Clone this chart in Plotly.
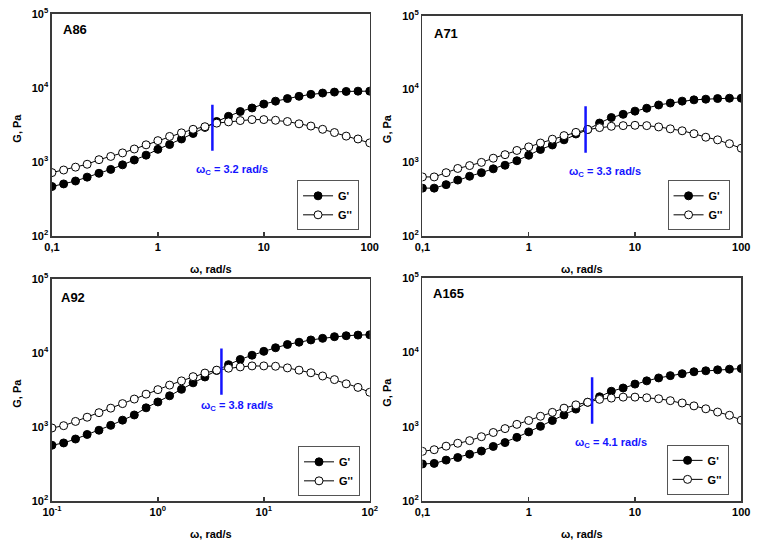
import plotly.graph_objects as go

# ---------------- data ----------------
freq = [0.1, 0.129, 0.167, 0.215, 0.278, 0.359, 0.464, 0.599, 0.774, 1.0,
        1.29, 1.67, 2.15, 2.78, 3.59, 4.64, 5.99, 7.74, 10.0,
        12.9, 16.7, 21.5, 27.8, 35.9, 46.4, 59.9, 77.4, 100.0]

sample_names = ["A86", "A71", "A92", "A165"]

gp_A86 = [466, 505, 553, 624, 703, 794, 914, 1063, 1235, 1480, 1720, 2043, 2423, 2930,
          3515, 4130, 4800, 5355, 6050, 6620, 7180, 7700, 8180, 8520, 8780, 8960, 9040, 9040]
gpp_A86 = [718, 778, 851, 931, 1073, 1187, 1325, 1496, 1704, 1941, 2212, 2472, 2760, 2992,
           3343, 3477, 3622, 3734, 3734, 3655, 3515, 3274, 3053, 2760, 2495, 2234, 2043, 1810]

gp_A71 = [449, 449, 501, 578, 652, 729, 823, 920, 1060, 1259, 1511, 1738, 2043, 2453,
          2825, 3460, 4110, 4545, 5025, 5505, 6095, 6475, 6880, 7160, 7310, 7460, 7540, 7540]
gpp_A71 = [638, 638, 729, 832, 911, 1007, 1148, 1283, 1464, 1637, 1848, 2085, 2333, 2582,
           2825, 3000, 3125, 3190, 3222, 3190, 3062, 2884, 2712, 2477, 2218, 2043, 1810, 1571]

gp_A92 = [567, 609, 688, 793, 904, 1052, 1237, 1453, 1815, 2178, 2638, 3227, 3948, 4735,
          5794, 6950, 8165, 9310, 10510, 11750, 13000, 13960, 14970, 15750, 16570, 17070, 17420, 17610]
gpp_A92 = [970, 1042, 1189, 1356, 1561, 1797, 2069, 2384, 2775, 3193, 3680, 4196, 4785, 5347,
           5855, 6220, 6475, 6680, 6680, 6610, 6280, 5855, 5400, 4883, 4365, 3828, 3425, 2945]

gp_A165 = [315, 321, 355, 385, 426, 470, 542, 611, 718, 851, 1010, 1210, 1436, 1722,
           2128, 2525, 2995, 3310, 3735, 4130, 4520, 4855, 5155, 5475, 5640, 5810, 5930, 6050]
gpp_A165 = [466, 490, 547, 598, 649, 733, 835, 942, 1074, 1210, 1380, 1557, 1774, 1963,
            2128, 2329, 2423, 2497, 2497, 2447, 2375, 2236, 2083, 1903, 1738, 1573, 1423, 1222]

# crossover marker (vertical blue line) and labels
cross_x = [3.27, 3.43, 3.98, 3.95]
cross_lo = [1420, 1365, 2720, 1095]
cross_hi = [5930, 5850, 11500, 4610]
cross_label = ["3.2", "3.3", "3.8", "4.1"]

# tick labels
xtick_vals = [0.1, 1, 10, 100]
xtick_text_comma = ["0,1", "1", "10", "100"]
xtick_text_pow = ["10<sup>-1</sup>", "10<sup>0</sup>", "10<sup>1</sup>", "10<sup>2</sup>"]
ytick_vals = [100, 1000, 10000, 100000]
ytick_text = ["10<sup>2</sup>", "10<sup>3</sup>", "10<sup>4</sup>", "10<sup>5</sup>"]

# ---------------- layout helpers ----------------
W, H = 760, 547
FONT = "Arial, Liberation Sans, sans-serif"
BLUE = "#1414ff"
FRAME = "#3a3a3a"

# pixel boxes of plot areas: (left, right, top, bottom)
boxes = [(43, 369, 6, 234), (423, 750, 8, 234), (43, 369, 278, 506), (423, 750, 277, 506)]
xtexts = [xtick_text_comma, xtick_text_comma, xtick_text_pow, xtick_text_comma]
series = [(gp_A86, gpp_A86), (gp_A71, gpp_A71), (gp_A92, gpp_A92), (gp_A165, gpp_A165)]
ann_pos = [(0.567, 0.298), (0.572, 0.292), (0.583, 0.430), (0.593, 0.258)]
name_pos = [(0.028, 0.93), (0.03, 0.92), (0.021, 0.918), (0.028, 0.93)]
legend_pos = [(358, 202.5), (738, 202.5), (359, 475.5), (737, 474)]
xtitle_y = [268, 268, 540, 540]

fig = go.Figure()
annotations = []
layout = dict(
    width=W, height=H,
    margin=dict(l=0, r=0, t=0, b=0),
    paper_bgcolor="white", plot_bgcolor="white",
    font=dict(family=FONT, size=10, color="black"),
)

for i in range(4):
    n = i + 1
    xa = "x" if n == 1 else f"x{n}"
    ya = "y" if n == 1 else f"y{n}"
    lg = "legend" if n == 1 else f"legend{n}"
    l, r, t, b = boxes[i]
    gp, gpp = series[i]

    fig.add_trace(go.Scatter(
        x=freq, y=gp, mode="lines+markers", name="G'",
        xaxis=xa, yaxis=ya, legend=lg,
        line=dict(color="black", width=1),
        marker=dict(symbol="circle", size=8, color="black", line=dict(color="black", width=1)),
    ))
    fig.add_trace(go.Scatter(
        x=freq, y=gpp, mode="lines+markers", name="G''",
        xaxis=xa, yaxis=ya, legend=lg,
        line=dict(color="black", width=1),
        marker=dict(symbol="circle", size=8, color="white", line=dict(color="black", width=1)),
    ))
    fig.add_trace(go.Scatter(
        x=[cross_x[i], cross_x[i]], y=[cross_lo[i], cross_hi[i]], mode="lines",
        xaxis=xa, yaxis=ya, showlegend=False, hoverinfo="skip",
        line=dict(color=BLUE, width=2.5),
    ))

    xkey = "xaxis" if n == 1 else f"xaxis{n}"
    ykey = "yaxis" if n == 1 else f"yaxis{n}"
    layout[xkey] = dict(
        type="log", range=[-1, 2], domain=[l / W, r / W], anchor=ya,
        showline=True, mirror=True, linecolor=FRAME, linewidth=1.5,
        ticks="inside", ticklen=4, tickwidth=1.5, tickcolor=FRAME,
        tickvals=xtick_vals, ticktext=xtexts[i], ticklabeloverflow="allow",
        tickfont=dict(family=FONT, size=11, color="black", weight="bold"),
        showgrid=False, zeroline=False, fixedrange=True,
    )
    layout[ykey] = dict(
        type="log", range=[2, 5], domain=[1 - b / H, 1 - t / H], anchor=xa,
        showline=True, mirror=True, linecolor=FRAME, linewidth=1.5,
        ticks="", tickvals=ytick_vals, ticktext=ytick_text, ticklabeloverflow="allow",
        tickfont=dict(family=FONT, size=11, color="black", weight="bold"),
        showgrid=False, zeroline=False, fixedrange=True,
    )
    lx, ly = legend_pos[i]
    layout[lg] = dict(
        x=lx / W, y=1 - ly / H, xanchor="right", yanchor="middle",
        bgcolor="white", bordercolor="#555555", borderwidth=1,
        font=dict(family=FONT, size=11, color="black", weight="bold"),
        itemwidth=30, tracegroupgap=0,
    )

    # crossover annotation
    ax_, ay_ = ann_pos[i]
    annotations.append(dict(
        xref=f"{xa} domain", yref=f"{ya} domain", x=ax_, y=ay_,
        text=f"ω<sub>C</sub> = {cross_label[i]} rad/s", showarrow=False,
        font=dict(family=FONT, size=11, color=BLUE, weight="bold"),
        xanchor="center", yanchor="middle",
    ))
    # sample name
    nx, ny = name_pos[i]
    annotations.append(dict(
        xref=f"{xa} domain", yref=f"{ya} domain", x=nx, y=ny,
        text=sample_names[i], showarrow=False,
        font=dict(family=FONT, size=13, color="black", weight="bold"),
        xanchor="left", yanchor="middle",
    ))
    # axis titles
    annotations.append(dict(
        xref="paper", yref="paper", x=((l + r) / 2) / W, y=1 - xtitle_y[i] / H,
        text="ω, rad/s", showarrow=False,
        font=dict(family=FONT, size=11, color="black", weight="bold"),
        xanchor="center", yanchor="middle",
    ))
    annotations.append(dict(
        xref="paper", yref="paper", x=(l - 36) / W, y=1 - ((t + b) / 2 + 3) / H,
        text="G, Pa", showarrow=False, textangle=-90,
        font=dict(family=FONT, size=11, color="black", weight="bold"),
        xanchor="center", yanchor="middle",
    ))

layout["annotations"] = annotations
fig.update_layout(**layout)
fig.write_html(
    "out.html",
    config={"displayModeBar": False, "staticPlot": True},
    post_script="document.body.style.margin='0';document.body.style.overflow='hidden';",
)
